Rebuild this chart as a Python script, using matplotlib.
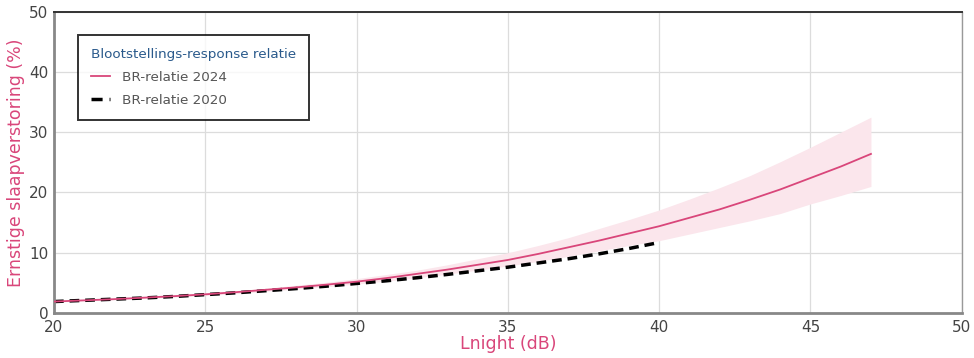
import matplotlib
matplotlib.use("Agg")
import matplotlib.pyplot as plt
from matplotlib.lines import Line2D

# Data
lnight_2024 = list(range(20, 48))
br_2024 = [1.9, 2.1, 2.3, 2.55, 2.8, 3.1, 3.45, 3.85, 4.25, 4.7, 5.2, 5.8, 6.5, 7.2,
           8.0, 8.8, 9.8, 10.9, 12.0, 13.2, 14.4, 15.8, 17.2, 18.8, 20.5, 22.4, 24.3, 26.4]
br_2024_upper = [2.0, 2.2, 2.45, 2.7, 3.0, 3.3, 3.7, 4.1, 4.6, 5.1, 5.7, 6.4, 7.1, 8.0,
                 9.0, 10.0, 11.2, 12.5, 14.0, 15.5, 17.1, 18.9, 20.8, 22.8, 25.1, 27.5, 30.0, 32.5]
br_2024_lower = [1.8, 2.0, 2.2, 2.4, 2.65, 2.9, 3.2, 3.6, 3.95, 4.35, 4.8, 5.3, 5.85, 6.45,
                 7.1, 7.8, 8.55, 9.4, 10.3, 11.2, 12.0, 13.1, 14.2, 15.3, 16.5, 18.1, 19.5, 21.0]
lnight_2020 = list(range(20, 41))
br_2020 = [1.9, 2.1, 2.3, 2.5, 2.75, 3.05, 3.35, 3.7, 4.05, 4.45, 4.9, 5.35, 5.85, 6.4,
           7.0, 7.6, 8.3, 9.0, 9.8, 10.7, 11.7]
x_ticks = [20, 25, 30, 35, 40, 45, 50]
y_ticks = [0, 10, 20, 30, 40, 50]

pink = "#d9467a"
band = "#fbe6ec"
dash = (0, (2.8, 1.7))

fig = plt.figure(figsize=(9.74, 3.58), dpi=100)
ax = fig.add_axes([0.0554, 0.1257, 0.9320, 0.8416])

ax.fill_between(lnight_2024, br_2024_lower, br_2024_upper, color=band, lw=0, zorder=1)
ax.plot(lnight_2024, br_2024, color=pink, lw=1.3, zorder=3, label="BR-relatie 2024")
ax.plot(lnight_2020, br_2020, color="black", lw=2.5, ls=dash, zorder=2,
        label="BR-relatie 2020")

ax.set_xlim(20, 50)
ax.set_ylim(0, 50)
ax.set_xticks(x_ticks)
ax.set_yticks(y_ticks)
ax.grid(True, color="#dcdcdc", lw=0.9)
ax.set_axisbelow(True)
ax.tick_params(length=0, labelsize=11, colors="#444444", pad=4)
ax.tick_params(axis="x", pad=5)

for s in ["left", "bottom"]:
    ax.spines[s].set_color("#888888")
    ax.spines[s].set_linewidth(2)
ax.spines["top"].set_color("#333333")
ax.spines["top"].set_linewidth(1.4)
ax.spines["right"].set_color("#999999")
ax.spines["right"].set_linewidth(1)

ax.set_xlabel("Lnight (dB)", color=pink, fontsize=12.5, labelpad=0)
ax.set_ylabel("Ernstige slaapverstoring (%)", color=pink, fontsize=12.5, labelpad=3)

handles = [Line2D([], [], color=pink, lw=1.3),
           Line2D([], [], color="black", lw=2.5, ls=(0, (3.2, 2.0)))]
leg = ax.legend(handles, ["BR-relatie 2024", "BR-relatie 2020"],
                title="Blootstellings-response relatie", loc="upper left",
                bbox_to_anchor=(0.0264, 0.9227), borderaxespad=0, fontsize=9.7,
                title_fontsize=9.7, frameon=True, fancybox=False, handlelength=1.4,
                handletextpad=0.95, borderpad=0.95, labelspacing=0.75, alignment="left")
leg.get_frame().set_edgecolor("black")
leg.get_frame().set_linewidth(1.4)
leg.get_title().set_color("#2a5a8c")
for t in leg.get_texts():
    t.set_color("#555555")

fig.savefig("out.png", dpi=100)
